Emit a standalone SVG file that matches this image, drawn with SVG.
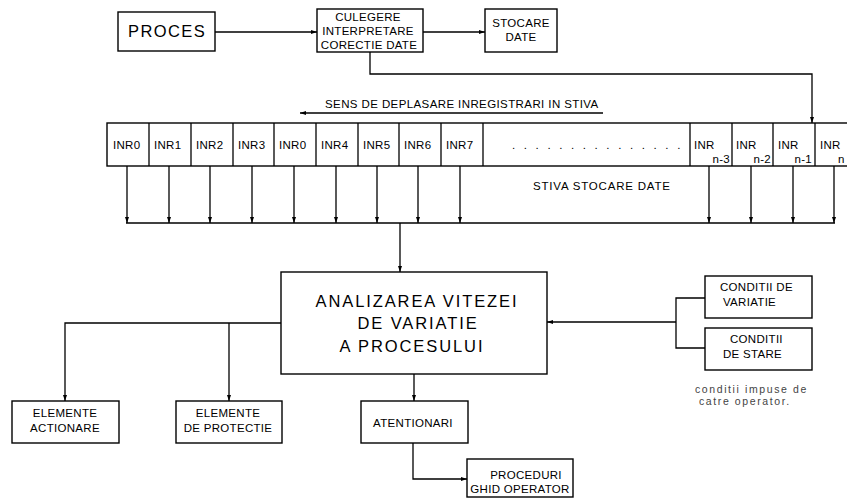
<svg xmlns="http://www.w3.org/2000/svg" width="847" height="498" viewBox="0 0 847 498">
<style>
  .box{fill:#fff;stroke:#000;stroke-width:1.4}
  .ln{fill:none;stroke:#000;stroke-width:1.3}
  .t{font-family:"Liberation Sans",Arial,sans-serif;fill:#000;font-size:11.5px;letter-spacing:0.3px}
  .c{text-anchor:middle}
  .big{font-size:16.5px;letter-spacing:1.9px}
  .note{font-size:10.5px;fill:#444;letter-spacing:1.6px}
</style>
<defs>
  <marker id="ah" viewBox="0 0 6 4" refX="6" refY="2" markerWidth="6" markerHeight="4" markerUnits="userSpaceOnUse" orient="auto">
    <path d="M0,0 L6,2 L0,4 Z" fill="#000"/>
  </marker>
</defs>
<rect width="847" height="498" fill="#fff"/>

<g id="connectors">
  <line class="ln" x1="215" y1="32" x2="317" y2="32" marker-end="url(#ah)"/>
  <line class="ln" x1="423" y1="32" x2="485" y2="32" marker-end="url(#ah)"/>
  <polyline class="ln" points="370,52 370,74 812,74 812,123" marker-end="url(#ah)"/>
  <line class="ln" x1="603" y1="113" x2="300" y2="113" marker-end="url(#ah)"/>
  <g id="stack-arrows">
    <line class="ln" x1="127" y1="166" x2="127" y2="223" marker-end="url(#ah)"/>
    <line class="ln" x1="169" y1="166" x2="169" y2="223" marker-end="url(#ah)"/>
    <line class="ln" x1="210" y1="166" x2="210" y2="223" marker-end="url(#ah)"/>
    <line class="ln" x1="252" y1="166" x2="252" y2="223" marker-end="url(#ah)"/>
    <line class="ln" x1="294" y1="166" x2="294" y2="223" marker-end="url(#ah)"/>
    <line class="ln" x1="336" y1="166" x2="336" y2="223" marker-end="url(#ah)"/>
    <line class="ln" x1="377" y1="166" x2="377" y2="223" marker-end="url(#ah)"/>
    <line class="ln" x1="418" y1="166" x2="418" y2="223" marker-end="url(#ah)"/>
    <line class="ln" x1="460" y1="166" x2="460" y2="223" marker-end="url(#ah)"/>
    <line class="ln" x1="709" y1="166" x2="709" y2="223" marker-end="url(#ah)"/>
    <line class="ln" x1="751" y1="166" x2="751" y2="223" marker-end="url(#ah)"/>
    <line class="ln" x1="793" y1="166" x2="793" y2="223" marker-end="url(#ah)"/>
    <line class="ln" x1="834" y1="166" x2="834" y2="223" marker-end="url(#ah)"/>
  </g>
  <line class="ln" x1="126" y1="223" x2="835" y2="223"/>
  <line class="ln" x1="400" y1="223" x2="400" y2="272" marker-end="url(#ah)"/>
  <polyline class="ln" points="281,323 65,323 65,401" marker-end="url(#ah)"/>
  <line class="ln" x1="229" y1="323" x2="229" y2="401" marker-end="url(#ah)"/>
  <line class="ln" x1="414" y1="374" x2="414" y2="401" marker-end="url(#ah)"/>
  <polyline class="ln" points="413,443 413,479 467,479" marker-end="url(#ah)"/>
  <line class="ln" x1="676" y1="322" x2="547" y2="322" marker-end="url(#ah)"/>
  <polyline class="ln" points="705,298 676,298 676,348 705,348"/>
</g>

<g id="proces">
  <rect class="box" x="118" y="12" width="97" height="39"/>
  <text class="t big" x="128" y="37" style="letter-spacing:1.4px">PROCES</text>
</g>
<g id="culegere">
  <rect class="box" x="317" y="9" width="106" height="43"/>
  <text class="t c" x="368" y="21">CULEGERE</text>
  <text class="t c" x="368" y="35">INTERPRETARE</text>
  <text class="t c" x="369" y="49">CORECTIE DATE</text>
</g>
<g id="stocare">
  <rect class="box" x="485" y="9" width="72" height="43"/>
  <text class="t c" x="521" y="27">STOCARE</text>
  <text class="t c" x="521" y="41">DATE</text>
</g>
<g id="sens-label">
  <text class="t" x="325" y="108" style="letter-spacing:0.4px">SENS DE DEPLASARE INREGISTRARI IN STIVA</text>
</g>

<g id="stiva">
  <rect class="box" x="107" y="123" width="750" height="43"/>
  <g class="ln">
    <line x1="149" y1="123" x2="149" y2="166"/>
    <line x1="191" y1="123" x2="191" y2="166"/>
    <line x1="233" y1="123" x2="233" y2="166"/>
    <line x1="274" y1="123" x2="274" y2="166"/>
    <line x1="316" y1="123" x2="316" y2="166"/>
    <line x1="358" y1="123" x2="358" y2="166"/>
    <line x1="399" y1="123" x2="399" y2="166"/>
    <line x1="441" y1="123" x2="441" y2="166"/>
    <line x1="483" y1="123" x2="483" y2="166"/>
    <line x1="690" y1="123" x2="690" y2="166"/>
    <line x1="732" y1="123" x2="732" y2="166"/>
    <line x1="773" y1="123" x2="773" y2="166"/>
    <line x1="815" y1="123" x2="815" y2="166"/>
  </g>
  <text class="t" x="113" y="149">INR0</text>
  <text class="t" x="154" y="149">INR1</text>
  <text class="t" x="196" y="149">INR2</text>
  <text class="t" x="238" y="149">INR3</text>
  <text class="t" x="279" y="149">INR0</text>
  <text class="t" x="321" y="149">INR4</text>
  <text class="t" x="363" y="149">INR5</text>
  <text class="t" x="404" y="149">INR6</text>
  <text class="t" x="446" y="149">INR7</text>
  <text class="t" x="512" y="149" style="letter-spacing:8.6px">...............</text>
  <text class="t" x="694" y="149">INR</text>
  <text class="t" x="730" y="163" text-anchor="end">n-3</text>
  <text class="t" x="736" y="149">INR</text>
  <text class="t" x="771" y="163" text-anchor="end">n-2</text>
  <text class="t" x="778" y="149">INR</text>
  <text class="t" x="812" y="163" text-anchor="end">n-1</text>
  <text class="t" x="820" y="149">INR</text>
  <text class="t" x="838" y="163">n</text>
  <text class="t" x="533" y="190" style="letter-spacing:0.8px">STIVA STOCARE DATE</text>
</g>

<g id="analiza">
  <rect class="box" x="281" y="272" width="266" height="102"/>
  <text class="t big c" x="417" y="307">ANALIZAREA VITEZEI</text>
  <text class="t big c" x="418" y="329">DE VARIATIE</text>
  <text class="t big c" x="412" y="352">A PROCESULUI</text>
</g>

<g id="conditii-variatie">
  <rect class="box" x="705" y="276" width="107" height="42"/>
  <text class="t" x="720" y="291">CONDITII DE</text>
  <text class="t" x="723" y="306">VARIATIE</text>
</g>
<g id="conditii-stare">
  <rect class="box" x="705" y="328" width="107" height="42"/>
  <text class="t" x="730" y="343">CONDITII</text>
  <text class="t" x="723" y="358">DE STARE</text>
</g>
<g id="nota">
  <text class="t note" x="695" y="393">conditii impuse de</text>
  <text class="t note" x="699" y="405">catre operator.</text>
</g>

<g id="elemente-actionare">
  <rect class="box" x="12" y="401" width="107" height="42"/>
  <text class="t c" x="65" y="417">ELEMENTE</text>
  <text class="t c" x="65" y="432">ACTIONARE</text>
</g>
<g id="elemente-protectie">
  <rect class="box" x="176" y="401" width="106" height="42"/>
  <text class="t c" x="228" y="417">ELEMENTE</text>
  <text class="t c" x="228" y="432">DE PROTECTIE</text>
</g>
<g id="atentionari">
  <rect class="box" x="361" y="401" width="107" height="42"/>
  <text class="t c" x="413" y="427">ATENTIONARI</text>
</g>
<g id="proceduri">
  <rect class="box" x="467" y="459" width="106" height="38"/>
  <text class="t c" x="526" y="479">PROCEDURI</text>
  <text class="t c" x="520" y="493">GHID OPERATOR</text>
</g>
</svg>
